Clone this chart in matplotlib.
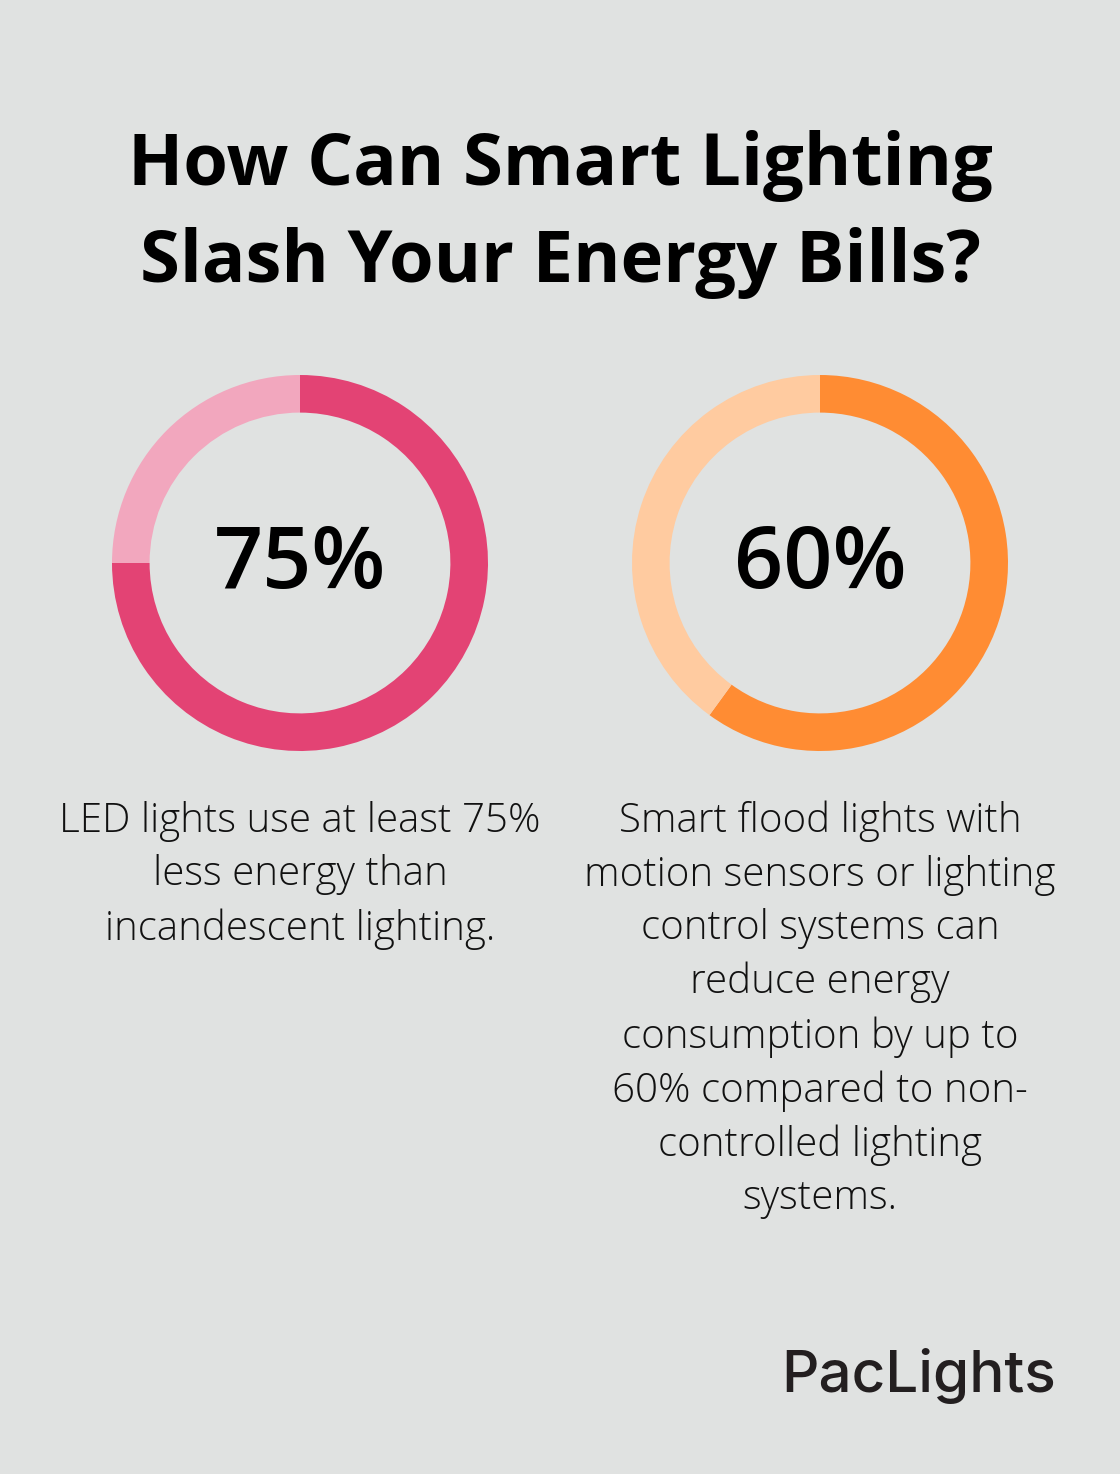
import matplotlib
matplotlib.use("Agg")
import matplotlib.pyplot as plt

W, H = 1120, 1474
BG = "#E0E2E1"

title_lines = ["How Can Smart Lighting", "Slash Your Energy Bills?"]
percents = [75, 60]
labels = ["75%", "60%"]
dark_colors = ["#E34374", "#FF8C33"]
light_colors = ["#F2A7BE", "#FFCBA0"]
captions = [
    "LED lights use at least 75%\nless energy than\nincandescent lighting.",
    "Smart flood lights with\nmotion sensors or lighting\ncontrol systems can\nreduce energy\nconsumption by up to\n60% compared to non-\ncontrolled lighting\nsystems.",
]
centers_x = [300, 820]

fig = plt.figure(figsize=(W / 100, H / 100), dpi=100, facecolor=BG)

def fx(px):
    return px / W

def fy(py):
    return 1 - py / H

# title
fig.text(fx(560), fy(166), title_lines[0], ha="center", va="center",
         fontsize=52, fontweight="bold", family="Open Sans", color="#000000")
fig.text(fx(560), fy(263), title_lines[1], ha="center", va="center",
         fontsize=52, fontweight="bold", family="Open Sans", color="#000000")

cy, r = 563, 188
for cx, p, lab, dc, lc, cap in zip(centers_x, percents, labels, dark_colors, light_colors, captions):
    ax = fig.add_axes([fx(cx - r), fy(cy + r), 2 * r / W, 2 * r / H])
    ax.pie([p, 100 - p], colors=[dc, lc], startangle=90, counterclock=False,
           radius=1, wedgeprops=dict(width=0.2, linewidth=0))
    ax.set_xlim(-1, 1)
    ax.set_ylim(-1, 1)
    ax.set_facecolor(BG)
    ax.axis("off")
    fig.text(fx(cx), fy(cy + 3), lab, ha="center", va="center",
             fontsize=62, family="Open Sans", fontweight="semibold", color="#000000")
    fig.text(fx(cx), fy(801), cap, ha="center", va="top",
             fontsize=29, family="Open Sans", fontweight="light",
             color="#111111", linespacing=1.4)

# logo
fig.text(fx(1056), fy(1376), "PacLights", ha="right", va="center",
         fontsize=42, family="Inter", fontweight="medium", color="#231F20")

fig.savefig("out.png", dpi=100, facecolor=BG)
